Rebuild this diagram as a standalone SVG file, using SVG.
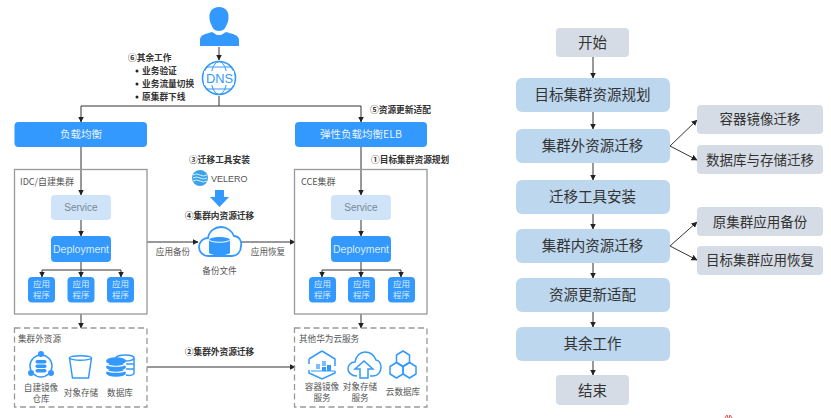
<svg xmlns="http://www.w3.org/2000/svg" width="831" height="418" viewBox="0 0 831 418">
<style>
text{font-family:"Noto Sans CJK SC","Liberation Sans",sans-serif;text-anchor:middle}
.lat{font-family:"Liberation Sans","Noto Sans CJK SC",sans-serif}
.st{text-anchor:start}
.blue{fill:#3399ff}
.w{fill:#ffffff}
.lb{font-size:10.500px;fill:#e8f3ff}
.sv{fill:#cfe4f8}
.sm{font-size:8.600px;fill:#555555}
.bd{font-size:8.700px;fill:#333333;font-weight:700}
.app{font-size:8.500px;fill:#d8ebff}
.fr{fill:none;stroke:#999999;stroke-width:1.3}
.da{fill:none;stroke:#999999;stroke-width:1.3;stroke-dasharray:6 3.5}
.step{fill:#bdd7ee}
.grey{fill:#d6dce5}
.fl{font-size:14.500px;fill:#333333}
.fs{font-size:13.500px;fill:#333333}
.c{fill:none;stroke:#333333;stroke-width:1;marker-end:url(#a)}
.n{fill:none;stroke:#333333;stroke-width:1}
.ic{fill:none;stroke:#3399ff;stroke-width:1.500}
</style>
<defs>
<marker id="a" markerWidth="7" markerHeight="7" refX="5.500" refY="3" orient="auto" markerUnits="userSpaceOnUse"><path d="M0 0L6 3L0 6Z" fill="#222222"/></marker>
</defs>
<rect width="831" height="418" fill="#ffffff"/>
<g id="connectors">
<path class="c" d="M219 47V60"/>
<path class="n" d="M219 96V106M81 106H361"/>
<path class="c" d="M81 106V122"/>
<path class="c" d="M361 106V122"/>
<path class="c" d="M81 147V195"/>
<path class="c" d="M361 147V195"/>
<path class="c" d="M81 220V236"/>
<path class="c" d="M361 220V236"/>
<path class="n" d="M81 262V270M42 270H121M322 270H401M361 262V270"/>
<path class="c" d="M42 270V277"/><path class="c" d="M81 270V277"/><path class="c" d="M121 270V277"/>
<path class="c" d="M322 270V277"/><path class="c" d="M361 270V277"/><path class="c" d="M401 270V277"/>
<path class="c" d="M147 242H198"/>
<path class="c" d="M241 242H295"/>
<path class="c" d="M81 314V328"/>
<path class="c" d="M361 314V328"/>
<path class="c" d="M147 367H295"/>
<path class="c" d="M593 57V78"/><path class="c" d="M593 112V129"/><path class="c" d="M593 163V180"/><path class="c" d="M593 214V229"/><path class="c" d="M593 263V278"/><path class="c" d="M593 312V327"/><path class="c" d="M593 361V375"/>
<path class="c" d="M670 146L697 120"/><path class="c" d="M670 146L697 160"/>
<path class="c" d="M670 246L697 222"/><path class="c" d="M670 246L697 260"/>
</g>
<g id="user">
<path class="blue" d="M219 7c-7 0-10 5-9.500 11c0 3 1 5 2 7c1 3 3 6 7.500 6s6.500-3 7.500-6c1-2 2-4 2-7c.5-6-2.500-11-9.500-11z"/>
<path class="blue" d="M200 46v-6c0-5 5-6 12-8l5 3h4l5-3c7 2 13 3 13 8v6z"/>
<path class="w" d="M216 32l3 2l3-2l-1 3h-4z"/>
</g>
<g id="dns">
<circle cx="219" cy="78" r="16.500" fill="none" stroke="#3399ff" stroke-width="1.600"/>
<ellipse cx="219" cy="78" rx="8" ry="16.500" fill="none" stroke="#3399ff" stroke-width="1"/>
<path d="M206 67H232M206 89H232" stroke="#3399ff" stroke-width="1"/>
<rect x="204" y="71" width="30" height="14" fill="#ffffff"/>
<text class="lat" x="219.500" y="83" font-size="12.800" fill="#3399ff">DNS</text>
</g>
<g id="note6">
<text class="bd st" x="128" y="61">⑥其余工作</text>
<circle cx="137" cy="71" r="1.500" fill="#222"/><text class="bd st" x="142" y="74">业务验证</text>
<circle cx="137" cy="84" r="1.500" fill="#222"/><text class="bd st" x="142" y="86.500">业务流量切换</text>
<circle cx="137" cy="97" r="1.500" fill="#222"/><text class="bd st" x="142" y="99.500">原集群下线</text>
</g>
<text class="bd st" x="370" y="112.500">⑤资源更新适配</text>
<text class="bd st" x="371" y="163">①目标集群资源规划</text>
<text class="bd" x="219.500" y="163">③迁移工具安装</text>
<text class="bd" x="219.500" y="219">④集群内资源迁移</text>
<text class="bd" x="219.500" y="355">②集群外资源迁移</text>
<g id="lb-left"><rect class="blue" x="14.500" y="122" width="132.500" height="25" rx="4"/><text class="lb" x="81" y="138">负载均衡</text></g>
<g id="lb-right"><rect class="blue" x="295" y="122" width="132" height="25" rx="4"/><text class="lb" x="361" y="138">弹性负载均衡ELB</text></g>
<g id="idc">
<rect class="fr" x="14.500" y="169.500" width="132.500" height="144.500"/>
<text class="sm st" x="20" y="185" style="font-size:9px">IDC/自建集群</text>
<rect class="sv" x="51" y="195" width="60" height="25" rx="4"/><text class="lat" x="81" y="211" font-size="10" fill="#778899">Service</text>
<rect class="blue" x="51" y="236" width="60" height="26" rx="4"/><text class="lat" x="81" y="252.500" font-size="10.500" fill="#d8ebff">Deployment</text>
<rect class="blue" x="28" y="277" width="27" height="25.500" rx="4"/><text class="app" x="41.500" y="287">应用</text><text class="app" x="41.500" y="298">程序</text>
<rect class="blue" x="67.500" y="277" width="27" height="25.500" rx="4"/><text class="app" x="81" y="287">应用</text><text class="app" x="81" y="298">程序</text>
<rect class="blue" x="107" y="277" width="27" height="25.500" rx="4"/><text class="app" x="120.500" y="287">应用</text><text class="app" x="120.500" y="298">程序</text>
</g>
<g id="cce">
<rect class="fr" x="294.500" y="169.500" width="132.500" height="144.500"/>
<text class="sm st" x="301" y="185" style="font-size:9px">CCE集群</text>
<rect class="sv" x="331" y="195" width="60" height="25" rx="4"/><text class="lat" x="361" y="211" font-size="10" fill="#778899">Service</text>
<rect class="blue" x="331" y="236" width="60" height="26" rx="4"/><text class="lat" x="361" y="252.500" font-size="10.500" fill="#d8ebff">Deployment</text>
<rect class="blue" x="309" y="277" width="27" height="25.500" rx="4"/><text class="app" x="322.500" y="287">应用</text><text class="app" x="322.500" y="298">程序</text>
<rect class="blue" x="348" y="277" width="27" height="25.500" rx="4"/><text class="app" x="361.500" y="287">应用</text><text class="app" x="361.500" y="298">程序</text>
<rect class="blue" x="388" y="277" width="27" height="25.500" rx="4"/><text class="app" x="401.500" y="287">应用</text><text class="app" x="401.500" y="298">程序</text>
</g>
<g id="velero">
<circle cx="200" cy="178" r="8" fill="#3ba3e8"/>
<path d="M193 175q3.500-2 7 0t7 0M193 178q3.500-2 7 0t7 0M193 181q3.500-2 7 0t7 0" fill="none" stroke="#ffffff" stroke-width=".8"/>
<text class="lat st" x="211" y="181.500" font-size="9" fill="#555555">VELERO</text>
<path class="blue" d="M215 190H224V197H229L219.500 207L210 197H215Z"/>
</g>
<g id="backup">
<path d="M209 256c-7 0-10-5-10-9c0-5 4-9 9-9c1-7 7-11 13-11c6 0 11 4 13 9c5 0 8 5 7 10c0 6-4 10-9 10z" fill="#ffffff" stroke="#3399ff" stroke-width="1.800"/>
<path class="blue" d="M209 240c0-4 21-4 21 0v13c-3 3-18 3-21 0z"/>
<path d="M209 240c3 3 18 3 21 0" fill="none" stroke="#ffffff" stroke-width="1"/>
<text class="sm" x="219.500" y="274">备份文件</text>
<text class="sm" x="173" y="255">应用备份</text>
<text class="sm" x="268" y="255">应用恢复</text>
</g>
<g id="external">
<rect class="da" x="14.500" y="328" width="132.500" height="79"/>
<text class="sm st" x="18" y="342">集群外资源</text>
<g id="registry">
<circle cx="41" cy="366" r="11" class="ic"/>
<circle cx="41" cy="354" r="3" class="blue"/><circle cx="31" cy="373" r="3" class="blue"/><circle cx="51" cy="373" r="3" class="blue"/>
<rect class="blue" x="35.500" y="360" width="11" height="3.500" rx="1.700"/><rect class="blue" x="35.500" y="364.500" width="11" height="3.500" rx="1.700"/><rect class="blue" x="35.500" y="369" width="11" height="3.500" rx="1.700"/>
<text class="sm" x="41" y="391">自建镜像</text><text class="sm" x="41" y="402">仓库</text>
</g>
<g id="objstore">
<path class="ic" d="M69.500 358c0-3 22-3 22 0l-3 20h-16zM69.500 358c3 3 19 3 22 0"/>
<text class="sm" x="81" y="396">对象存储</text>
</g>
<g id="database">
<ellipse cx="125" cy="358" rx="9" ry="3" class="ic"/>
<path class="ic" d="M126 364h8M126 369h8M126 375c4 1 8 0 8-2v-15"/>
<g fill="#3399ff"><ellipse cx="116" cy="361" rx="10" ry="3.800"/><ellipse cx="116" cy="367" rx="10" ry="3.800"/><ellipse cx="116" cy="373" rx="10" ry="3.800"/></g>
<path d="M106 364c3 3 17 3 20 0M106 370c3 3 17 3 20 0" fill="none" stroke="#fff" stroke-width="1.200"/>
<text class="sm" x="120" y="396">数据库</text>
</g>
</g>
<g id="huawei">
<rect class="da" x="294.500" y="328" width="132.500" height="79"/>
<text class="sm st" x="299" y="342">其他华为云服务</text>
<g id="swr">
<path class="ic" d="M322 351l13 8v7M309 359l13-8M309 359v5M309 370v3l13 6l13-6v-2"/>
<rect x="322" y="361" width="4" height="5" fill="#7dbdff"/><rect x="316" y="364" width="4" height="5" fill="#7dbdff"/><rect x="322" y="367" width="4" height="4" fill="#3399ff"/><rect x="327" y="365" width="4" height="6" fill="#3399ff"/>
<path d="M311 371h24" stroke="#3399ff" stroke-width="1" fill="none"/>
<text class="sm" x="322" y="390">容器镜像</text><text class="sm" x="322" y="401">服务</text>
</g>
<g id="obs">
<path class="ic" d="M357 376c-6 0-9-4-9-7c0-4 3-7 7-7c1-6 5-10 10-10s9 3 11 8c3 0 5 4 5 7c0 5-3 9-8 9h-3"/>
<path class="ic" d="M360 378v-9h-5l9-8l9 8h-5v9z"/>
<text class="sm" x="360" y="390">对象存储</text><text class="sm" x="360" y="401">服务</text>
</g>
<g id="cloud-db">
<path class="ic" d="M403 351l6.500 4v7.500l-6.500 4l-6.500-4v-7.500z"/>
<path class="ic" d="M396.500 362.500l6.500 4v7.500l-6.500 4l-6.500-4v-7.500z"/>
<path class="ic" d="M409.500 362.500l6.500 4v7.500l-6.500 4l-6.500-4v-7.500z"/>
<text class="sm" x="403" y="395">云数据库</text>
</g>
</g>
<g id="s0"><rect class="grey" x="556" y="28" width="73" height="29" rx="4"/><text class="fl" x="592.500" y="48">开始</text></g>
<g id="s1"><rect class="step" x="516" y="78" width="154" height="34" rx="6"/><text class="fl" x="592.500" y="100">目标集群资源规划</text></g>
<g id="s2"><rect class="step" x="516" y="129" width="154" height="34" rx="6"/><text class="fl" x="592.500" y="151">集群外资源迁移</text></g>
<g id="s3"><rect class="step" x="516" y="180" width="154" height="34" rx="6"/><text class="fl" x="592.500" y="202">迁移工具安装</text></g>
<g id="s4"><rect class="step" x="516" y="229" width="154" height="34" rx="6"/><text class="fl" x="592.500" y="251">集群内资源迁移</text></g>
<g id="s5"><rect class="step" x="516" y="278" width="154" height="34" rx="6"/><text class="fl" x="592.500" y="300">资源更新适配</text></g>
<g id="s6"><rect class="step" x="516" y="327" width="154" height="34" rx="6"/><text class="fl" x="592.500" y="349">其余工作</text></g>
<g id="s7"><rect class="grey" x="556" y="375" width="73" height="30" rx="4"/><text class="fl" x="592.500" y="396">结束</text></g>
<g id="b1"><rect class="grey" x="697" y="105" width="126" height="29" rx="4"/><text class="fs" x="760" y="124">容器镜像迁移</text></g>
<g id="b2"><rect class="grey" x="697" y="145" width="126" height="29" rx="4"/><text class="fs" x="760" y="165">数据库与存储迁移</text></g>
<g id="b3"><rect class="grey" x="697" y="207" width="126" height="29" rx="4"/><text class="fs" x="760" y="227">原集群应用备份</text></g>
<g id="b4"><rect class="grey" x="697" y="246" width="126" height="29" rx="4"/><text class="fs" x="760" y="265">目标集群应用恢复</text></g>
<path d="M725 418l2-3l1 3M729 418l1-3l2 3" fill="none" stroke="#e05050" stroke-width="1"/>
</svg>
